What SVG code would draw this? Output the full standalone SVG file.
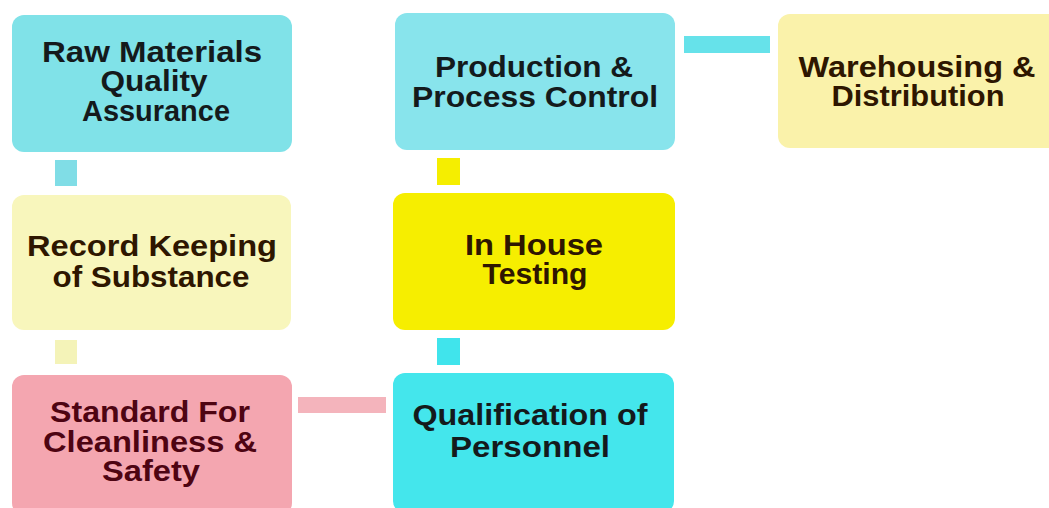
<svg xmlns="http://www.w3.org/2000/svg" width="1049" height="508" viewBox="0 0 1049 508">
  <style>
    .box { stroke: none; }
    .lbl { font-family: "Liberation Sans", Arial, sans-serif; font-weight: bold; font-size: 29px; text-anchor: middle; }
    .dk { fill: #141a1c; }
    .br { fill: #2e1600; }
    .rd { fill: #4e0412; }
  </style>
  <rect width="1049" height="508" fill="#ffffff"/>

  <!-- connectors -->
  <g id="connectors">
    <rect x="55" y="160" width="22" height="26" fill="#80dde6"/>
    <rect x="55" y="340" width="22" height="24" fill="#f4f3b8"/>
    <rect x="298" y="397" width="88" height="16" fill="#f4b4bc"/>
    <rect x="437" y="338" width="23" height="27" fill="#40e4ec"/>
    <rect x="437" y="158" width="23" height="27" fill="#f5ee00"/>
    <rect x="684" y="36" width="86" height="17" fill="#66e2ea"/>
  </g>

  <g id="raw-materials">
    <rect class="box" x="12" y="15" width="280" height="137" rx="12" fill="#80e2e8"/>
    <text class="lbl dk" x="152" y="62" textLength="220" lengthAdjust="spacingAndGlyphs">Raw Materials</text>
    <text class="lbl dk" x="154" y="91" textLength="107" lengthAdjust="spacingAndGlyphs">Quality</text>
    <text class="lbl dk" x="156" y="121" textLength="148" lengthAdjust="spacingAndGlyphs">Assurance</text>
  </g>

  <g id="record-keeping">
    <rect class="box" x="12" y="195" width="279" height="135" rx="12" fill="#f8f6bc"/>
    <text class="lbl br" x="152" y="256" textLength="250" lengthAdjust="spacingAndGlyphs">Record Keeping</text>
    <text class="lbl br" x="151" y="287" textLength="197" lengthAdjust="spacingAndGlyphs">of Substance</text>
  </g>

  <g id="cleanliness-safety">
    <rect class="box" x="12" y="375" width="280" height="140" rx="12" fill="#f4a6b0"/>
    <text class="lbl rd" x="150" y="422" textLength="200" lengthAdjust="spacingAndGlyphs">Standard For</text>
    <text class="lbl rd" x="150" y="452" textLength="214" lengthAdjust="spacingAndGlyphs">Cleanliness &amp;</text>
    <text class="lbl rd" x="151" y="481" textLength="98" lengthAdjust="spacingAndGlyphs">Safety</text>
  </g>

  <g id="production-control">
    <rect class="box" x="395" y="13" width="280" height="137" rx="12" fill="#88e4ec"/>
    <text class="lbl dk" x="534" y="77" textLength="198" lengthAdjust="spacingAndGlyphs">Production &amp;</text>
    <text class="lbl dk" x="535" y="107" textLength="246" lengthAdjust="spacingAndGlyphs">Process Control</text>
  </g>

  <g id="in-house-testing">
    <rect class="box" x="393" y="193" width="282" height="137" rx="12" fill="#f6ee00"/>
    <text class="lbl br" x="534" y="255" textLength="138" lengthAdjust="spacingAndGlyphs">In House</text>
    <text class="lbl br" x="535" y="284" textLength="105" lengthAdjust="spacingAndGlyphs">Testing</text>
  </g>

  <g id="qualification-personnel">
    <rect class="box" x="393" y="373" width="281" height="140" rx="12" fill="#44e6ec"/>
    <text class="lbl dk" x="530" y="425" textLength="235" lengthAdjust="spacingAndGlyphs">Qualification of</text>
    <text class="lbl dk" x="530" y="457" textLength="160" lengthAdjust="spacingAndGlyphs">Personnel</text>
  </g>

  <g id="warehousing-distribution">
    <rect class="box" x="778" y="14" width="290" height="134" rx="12" fill="#faf2aa"/>
    <text class="lbl br" x="917" y="77" textLength="237" lengthAdjust="spacingAndGlyphs">Warehousing &amp;</text>
    <text class="lbl br" x="918" y="106" textLength="173" lengthAdjust="spacingAndGlyphs">Distribution</text>
  </g>
</svg>
